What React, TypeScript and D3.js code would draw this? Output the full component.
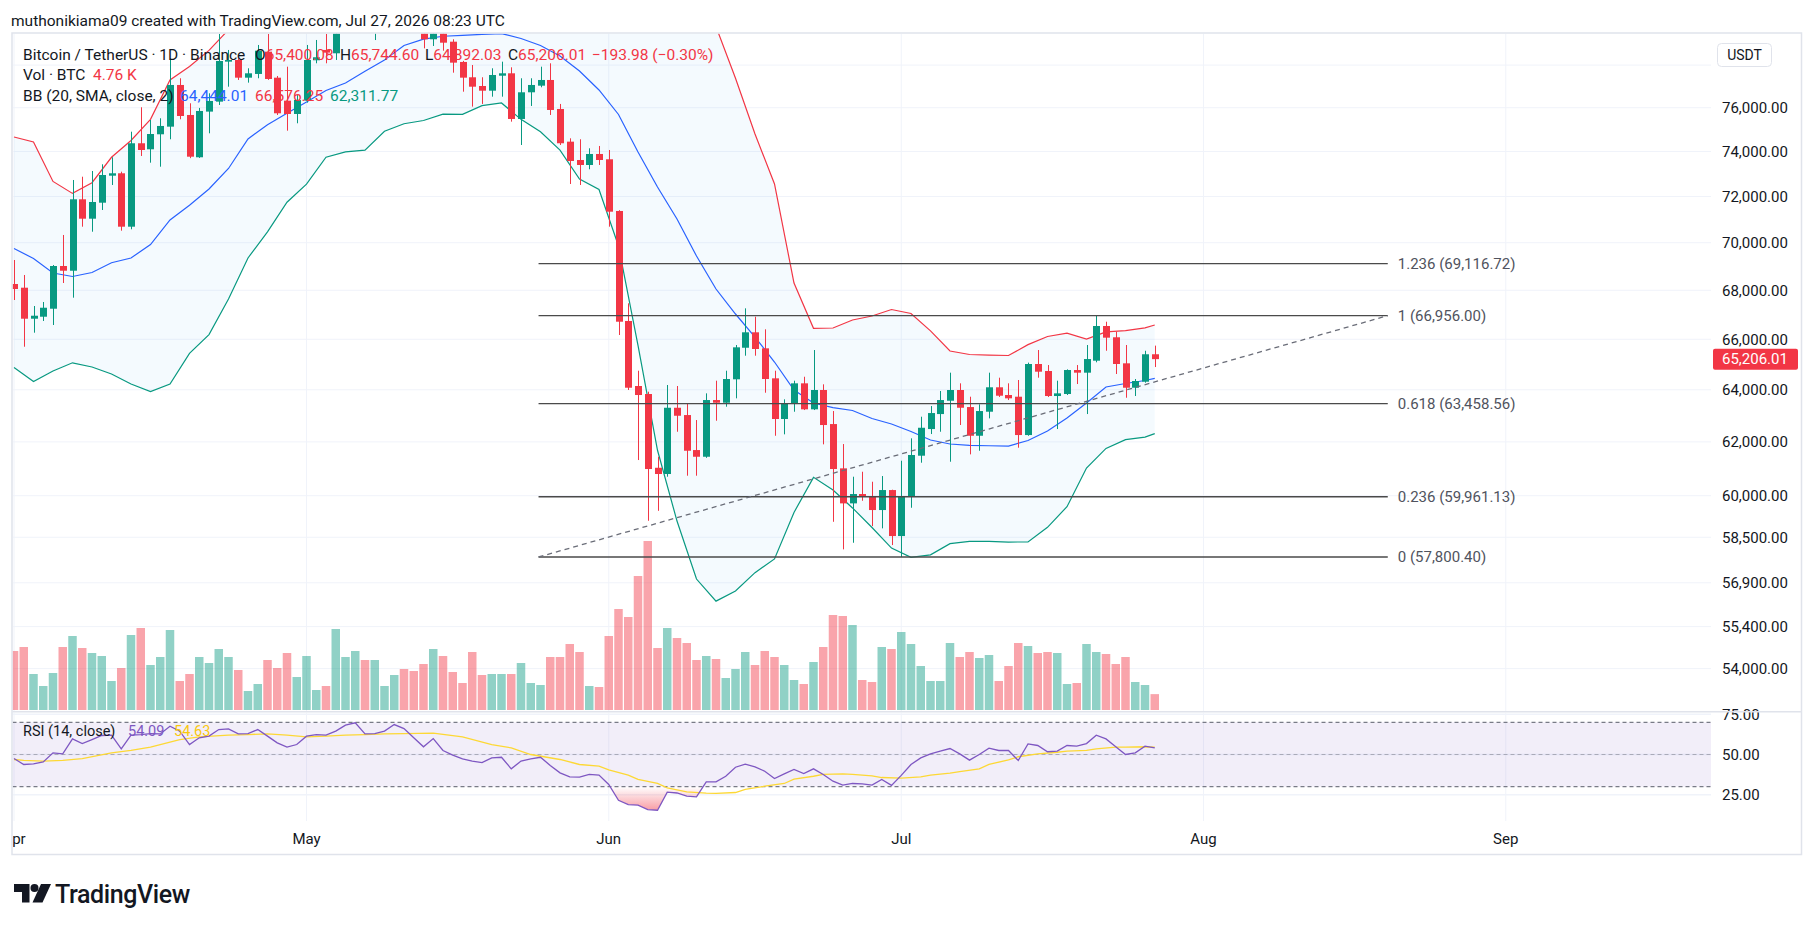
import { useEffect, useRef } from "react";
import * as d3 from "d3";

const W = 1815;
const H = 931;
const FONT = "Roboto, 'Noto Sans', Arial, sans-serif";
const TEXT = "#131722";
const UP = "#089981";
const DOWN = "#f23645";
const GRID = "#f0f3fa";
const BORDER = "#e0e3eb";

// BTCUSDT daily candles, Apr 1 – Jul 27 2026
const opens = [
  68260, 68107, 66832, 66913, 67240, 69013, 68815, 71876, 71031, 71727,
  72917, 73024, 70686, 74372, 74100, 74780, 75128, 77061, 75665, 73740,
  75820, 76282, 78163, 78244, 77404, 77580, 78640, 77404, 76327, 75711,
  76327, 78230, 78722, 78563, 79900, 81500, 82300, 81400, 81900, 82300,
  82900, 82000, 81000, 79237, 79900, 79120, 78150, 77423, 77013, 76793,
  77497, 77611, 75481, 76718, 77028, 77296, 75942, 74445, 73618, 73394,
  73888, 73650, 71366, 66739, 64147, 63835, 61030, 60798, 63303, 63022,
  61692, 61441, 63601, 63497, 64410, 65660, 66281, 65637, 64448, 62870,
  63447, 64252, 63242, 63991, 62677, 61008, 59720, 60061, 59987, 59478,
  60207, 58543, 59961, 61480, 62487, 63060, 63574, 63991, 63330, 62232,
  63150, 64097, 63796, 63730, 62259, 65013, 64736, 63757, 63835, 64775,
  64670, 65144, 66536, 66080, 65040, 64080, 64315, 65400.08,
];
const highs = [
  69266, 68636, 67351, 67516, 69055, 70330, 72726, 72872, 73126, 73425,
  73740, 73095, 74898, 76021, 75435, 75513, 78325, 77376, 76206, 75990,
  76671, 79494, 78722, 78325, 77848, 78962, 79494, 77484, 77925, 76593,
  78962, 79203, 79494, 80300, 82000, 82800, 82600, 82400, 82700, 83300,
  83100, 82300, 81400, 80300, 80200, 79237, 78200, 78005, 77423, 77848,
  78163, 77895, 77376, 77376, 77925, 78085, 76175, 74597, 74553, 74145,
  74249, 74068, 71400, 67462, 64748, 63925, 61440, 64186, 64147, 63474,
  62831, 63861, 64355, 64748, 65770, 67256, 66914, 66402, 64748, 63628,
  64355, 64510, 65569, 64213, 63176, 61918, 60698, 60883, 60513, 60723,
  60220, 61292, 62134, 62958, 63369, 63952, 64670, 64252, 63730, 63435,
  64670, 64473, 64252, 64382, 65067, 65569, 64972, 64355, 64801, 64972,
  65770, 66956, 66710, 66305, 65770, 64421, 65540, 65744.6,
];
const lows = [
  67598, 65701, 66265, 66739, 66576, 68302, 67693, 70686, 70470, 71409,
  72505, 70514, 70574, 73798, 73497, 73318, 74553, 75467, 73700, 73710,
  74825, 76127, 76980, 77296, 77170, 77376, 77300, 75665, 74944, 75283,
  76235, 78085, 78085, 78244, 79600, 81000, 81000, 79200, 81300, 81900,
  81600, 80600, 78800, 78914, 78688, 77640, 76746, 76050, 76175, 76513,
  76513, 75357, 74294, 76082, 76952, 75665, 74294, 72549, 72505, 73202,
  73394, 70686, 66172, 63991, 61318, 59090, 59450, 60698, 62384, 60735,
  60735, 61400, 62804, 63343, 63667, 65342, 65342, 63885, 62232, 62286,
  63150, 63215, 63215, 61907, 59054, 58070, 58304, 59815, 58900, 58818,
  58222, 57800.4, 59561, 61218, 62297, 62384, 61255, 62640, 61530, 61666,
  62895, 63720, 63601, 61780, 62232, 64473, 63720, 62487, 63796, 64225,
  63060, 65080, 65540, 64618, 63690, 63757, 64277, 64892.03,
];
const closes = [
  68053, 66832, 66954, 67281, 69013, 68815, 71876, 71031, 71758, 72948,
  73024, 70686, 74372, 74068, 74793, 75160, 77061, 75618, 73766, 75850,
  76314, 78196, 78244, 77404, 77611, 78688, 77343, 75743, 75711, 76360,
  78244, 78373, 78595, 79900, 81500, 82300, 81400, 81900, 82300, 82900,
  82000, 81000, 79237, 79900, 79072, 78116, 77404, 76980, 76793, 77531,
  77611, 75481, 76718, 77061, 77296, 75896, 74372, 73573, 73394, 73888,
  73618, 71335, 66710, 64080, 63796, 60983, 60798, 63303, 62995, 61666,
  61441, 63601, 63497, 64421, 65677, 66281, 65610, 64421, 62870, 63474,
  64252, 63242, 63991, 62640, 60983, 59720, 60061, 59961, 59478, 60207,
  58543, 59987, 61507, 62536, 63099, 63601, 63991, 63303, 62232, 63176,
  64097, 63769, 63667, 62259, 65013, 64709, 63757, 63861, 64775, 64670,
  65210, 66536, 66064, 65013, 64080, 64343, 65399.99, 65206.01,
];
// volume, thousand BTC
const volumes = [
  17.7, 18.9, 10.8, 7.2, 11.1, 18.9, 22.2, 18.6, 17.1, 16.2,
  8.7, 12.6, 22.5, 24.6, 13.5, 15.9, 24.0, 8.7, 10.8, 15.9,
  14.1, 18.3, 15.9, 12.0, 5.7, 7.8, 15.0, 12.6, 17.1, 9.9,
  16.2, 6.0, 7.2, 24.3, 15.9, 17.7, 15.0, 15.0, 7.2, 10.5,
  12.3, 11.7, 13.8, 18.3, 16.2, 11.4, 8.1, 17.4, 10.5, 10.8,
  10.8, 10.8, 14.1, 8.1, 7.5, 15.9, 15.9, 19.8, 17.4, 7.2,
  6.9, 22.2, 30.3, 27.9, 40.2, 50.7, 18.6, 24.6, 21.6, 20.1,
  15.0, 16.2, 15.3, 9.6, 12.3, 17.4, 13.5, 17.7, 15.9, 13.5,
  9.0, 7.8, 14.4, 18.9, 28.5, 28.2, 25.5, 9.0, 8.4, 18.9,
  18.3, 23.4, 19.8, 13.2, 8.7, 8.7, 20.1, 15.9, 17.4, 15.6,
  16.5, 8.7, 13.2, 20.1, 19.2, 17.1, 17.4, 17.1, 7.8, 8.1,
  19.8, 17.4, 16.8, 13.8, 15.9, 8.4, 7.5, 4.76,
];

// Bollinger Bands (20, 2), sampled every other day
const bbDays = [
  0, 2, 4, 6, 8, 10, 12, 14, 16, 18, 20, 22, 24, 26, 28, 30, 32, 34, 36, 38,
  40, 42, 44, 46, 48, 50, 52, 54, 56, 58, 60, 62, 64, 66, 68, 70, 72, 74, 76, 78,
  80, 82, 84, 86, 88, 90, 92, 94, 96, 98, 100, 102, 104, 106, 108, 110, 112, 114, 116, 117,
];
const bbUpper = [
  74658, 74430, 72664, 72135, 72606, 73740, 74498, 75463, 77296, 77933,
  78700, 79700, 80500, 80800, 80600, 80800, 80700, 80900, 81359, 81571,
  82615, 83072, 83057, 83157, 82852, 82806, 83089, 82982, 82807, 82672,
  81346, 81518, 82199, 83149, 82956, 81841, 79850, 77376, 74794, 72549,
  68302, 66443, 66455, 66779, 66942, 67208, 67044, 66341, 65529, 65390,
  65362, 65350, 65785, 66111, 66245, 66010, 66297, 66345, 66463, 66576.25,
];
const bbBasis = [
  69753, 69330, 68720, 68573, 68740, 69152, 69351, 69923, 70975, 71614,
  72328, 73238, 74567, 75219, 75744, 76267, 76803, 77155, 77711, 78244,
  78938, 79242, 79382, 79425, 79474, 79513, 79276, 78938, 78435, 77721,
  76826, 75689, 73978, 72417, 71018, 69435, 68053, 67024, 66091, 65092,
  63991, 63485, 63311, 63196, 62889, 62678, 62392, 62070, 61919, 61870,
  61855, 61843, 62051, 62411, 62908, 63485, 64108, 64245, 64362, 64444.01,
];
const bbLower = [
  64874, 64323, 64736, 65060, 64894, 64618, 64226, 63933, 64226, 65434,
  66188, 67639, 69351, 70467, 71749, 72540, 73744, 73982, 74063, 74917,
  75261, 75412, 75707, 75693, 76096, 76220, 75463, 74894, 74063, 72770,
  72306, 69860, 65757, 61685, 59080, 57029, 56267, 56614, 57252, 57732,
  59391, 60675, 60207, 59554, 58850, 58116, 57791, 57876, 58272, 58350,
  58354, 58329, 58332, 58854, 59601, 61020, 61753, 62085, 62180, 62311.77,
];

// RSI (14) and its moving average
const rsiValues = [
  47.5, 43.8, 44.2, 45.4, 51.0, 50.4, 59.7, 56.8, 59.3, 61.8,
  62.0, 53.5, 62.0, 62.4, 63.0, 62.8, 67.6, 64.5, 56.2, 60.4,
  61.4, 65.5, 65.9, 62.8, 63.0, 65.5, 61.4, 57.2, 54.6, 56.2,
  61.4, 62.4, 62.0, 64.5, 68.2, 69.7, 62.8, 63.0, 64.5, 68.6,
  66.1, 60.4, 54.8, 59.9, 52.5, 49.6, 47.3, 45.9, 45.0, 47.9,
  48.3, 41.1, 45.9, 47.3, 48.3, 43.2, 38.6, 36.1, 35.9, 37.6,
  37.2, 31.4, 21.6, 18.9, 18.5, 15.8, 15.4, 26.6, 26.1, 24.1,
  23.7, 33.0, 33.0, 36.5, 42.1, 44.0, 42.3, 39.6, 35.1, 38.0,
  40.7, 38.2, 41.1, 37.6, 33.4, 31.0, 32.0, 31.8, 31.0, 34.5,
  30.8, 37.0, 43.8, 47.9, 50.4, 52.1, 53.7, 50.4, 46.5, 50.0,
  53.9, 52.5, 52.5, 46.3, 56.6, 55.6, 51.7, 52.1, 55.6, 55.2,
  56.8, 62.0, 59.7, 54.8, 50.0, 51.0, 55.2, 54.09,
];
const rsiMaDays = [
  0, 1, 3, 5, 7, 10, 12, 14, 17, 19, 22, 24, 26, 28, 30, 32, 34, 36, 38, 40, 43, 46,
  49, 51, 53, 56, 58, 60, 61, 63, 64, 66, 67, 69, 71, 72, 74, 75, 77, 79, 80, 82, 83,
  85, 86, 88, 89, 91, 93, 94, 96, 97, 99, 100, 102, 103, 105, 107, 108, 110, 111, 113,
  114, 116, 117,
];
const rsiMaValues = [
  46.9, 46.3, 45.9, 46.3, 47.5, 51.0, 52.5, 54.6, 59.3, 61.0, 62.0, 62.4, 62.8, 62.0,
  61.0, 61.4, 62.0, 62.4, 62.8, 63.0, 63.3, 61.0, 56.2, 54.1, 50.0, 46.9, 43.8, 42.8,
  40.5, 37.2, 34.5, 32.0, 29.3, 26.8, 26.0, 25.8, 26.4, 28.3, 30.3, 32.0, 34.7, 36.5,
  37.6, 38.0, 37.6, 36.7, 35.7, 35.3, 36.1, 37.2, 38.4, 39.4, 41.1, 43.8, 46.7, 48.6,
  50.4, 51.4, 52.1, 52.5, 53.5, 54.6, 54.6, 54.8, 54.63,
];

// grid lines; the top one sits behind the currency box and carries no label
const priceGrid = [78000, 76000, 74000, 72000, 70000, 68000, 66000, 64000, 62000, 60000, 58500, 56900, 55400, 54000];
const priceLabels = [76000, 74000, 72000, 70000, 68000, 66000, 64000, 62000, 60000, 58500, 56900, 55400, 54000];
const rsiTicks = [75, 50, 25];

// Fibonacci retracement drawing
const fibRatios = ["1.236", "1", "0.618", "0.236", "0"];
const fibPrices = [69116.72, 66956.0, 63458.56, 59961.13, 57800.4];
const fibStartDay = 53.8;
const fibEndDay = 140.9;

const DAY = 864e5;
const t0 = Date.UTC(2026, 3, 1);
const dayDate = (d: number) => new Date(t0 + d * DAY);

export default function App() {
  const ref = useRef<SVGSVGElement>(null);

  useEffect(() => {
    document.body.style.margin = "0";
    const svg = d3.select(ref.current);
    svg.selectAll("*").remove();

    const L = 12.5, R = 1711, FR = 1801.5;
    const mainTop = 33.5, mainBot = 711, rsiTop = 712.5, rsiBot = 821, frameBot = 854.5;

    const x = d3.scaleUtc().domain([dayDate(0), new Date(Date.UTC(2026, 8, 1))]).range([14, 1505.75]);
    const y = d3.scaleLog().domain([60000, 70000]).range([495.7, 242.7]);
    const yVol = d3.scaleLinear().domain([0, d3.max(volumes) as number]).range([710, 541]);
    const yRsi = d3.scaleLinear().domain([30, 70]).range([786.7, 722.3]);
    const fmt = d3.format(",.2f");

    const defs = svg.append("defs");
    defs.append("clipPath").attr("id", "mainClip").append("rect")
      .attr("x", L).attr("y", mainTop).attr("width", R - L).attr("height", mainBot - mainTop);
    defs.append("clipPath").attr("id", "rsiClip").append("rect")
      .attr("x", L).attr("y", rsiTop).attr("width", R - L).attr("height", rsiBot - rsiTop);
    defs.append("clipPath").attr("id", "oversoldClip").append("rect")
      .attr("x", L).attr("y", yRsi(30)).attr("width", R - L).attr("height", rsiBot - yRsi(30));
    defs.append("clipPath").attr("id", "axisClip").append("rect")
      .attr("x", L).attr("y", rsiBot).attr("width", R - L).attr("height", frameBot - rsiBot);
    const grad = defs.append("linearGradient").attr("id", "oversoldGrad")
      .attr("gradientUnits", "userSpaceOnUse")
      .attr("x1", 0).attr("x2", 0).attr("y1", yRsi(30)).attr("y2", yRsi(0));
    grad.append("stop").attr("offset", 0).attr("stop-color", DOWN).attr("stop-opacity", 0);
    grad.append("stop").attr("offset", 1).attr("stop-color", DOWN).attr("stop-opacity", 1);

    svg.append("rect").attr("width", W).attr("height", H).attr("fill", "#fff");

    // header
    svg.append("text").attr("x", 11).attr("y", 25.5)
      .attr("font-family", FONT).attr("font-size", 15.5).attr("fill", TEXT)
      .text("muthonikiama09 created with TradingView.com, Jul 27, 2026 08:23 UTC");

    const months = d3.utcMonth.range(dayDate(0), new Date(Date.UTC(2026, 8, 2)));

    // ---- main pane ----
    const main = svg.append("g").attr("clip-path", "url(#mainClip)");
    months.forEach((m) => {
      main.append("line").attr("x1", x(m)).attr("x2", x(m)).attr("y1", mainTop).attr("y2", mainBot)
        .attr("stroke", GRID).attr("stroke-width", 1);
    });
    priceGrid.forEach((p) => {
      main.append("line").attr("x1", L).attr("x2", R).attr("y1", y(p)).attr("y2", y(p))
        .attr("stroke", GRID).attr("stroke-width", 1);
    });

    const bbIdx = d3.range(bbDays.length);
    const bbArea = d3.area<number>()
      .x((i) => x(dayDate(bbDays[i])))
      .y0((i) => y(bbLower[i]))
      .y1((i) => y(bbUpper[i]));
    main.append("path").datum(bbIdx).attr("d", bbArea).attr("fill", "rgba(33,150,243,0.05)");

    // volume
    main.selectAll(".vol").data(volumes).enter().append("rect")
      .attr("x", (_, i) => x(dayDate(i)) - 4.25)
      .attr("width", 8.5)
      .attr("y", (v) => yVol(v))
      .attr("height", (v) => yVol(0) - yVol(v))
      .attr("fill", (_, i) => (closes[i] >= opens[i] ? "rgba(8,153,129,0.45)" : "rgba(242,54,69,0.45)"));

    const bbLine = (vals: number[]) =>
      d3.line<number>().x((i) => x(dayDate(bbDays[i]))).y((i) => y(vals[i]))(bbIdx);
    main.append("path").attr("d", bbLine(bbUpper)).attr("fill", "none").attr("stroke", DOWN).attr("stroke-width", 1.2);
    main.append("path").attr("d", bbLine(bbLower)).attr("fill", "none").attr("stroke", UP).attr("stroke-width", 1.2);
    main.append("path").attr("d", bbLine(bbBasis)).attr("fill", "none").attr("stroke", "#2962ff").attr("stroke-width", 1.2);

    // candles
    closes.forEach((c, i) => {
      const o = opens[i];
      const cx = Math.round(x(dayDate(i))) + 0.5;
      const col = c >= o ? UP : DOWN;
      main.append("line").attr("x1", cx).attr("x2", cx).attr("y1", y(highs[i])).attr("y2", y(lows[i]))
        .attr("stroke", col).attr("stroke-width", 1);
      const top = y(Math.max(o, c));
      const h = Math.max(1, y(Math.min(o, c)) - top);
      main.append("rect").attr("x", cx - 3.5).attr("y", top).attr("width", 7).attr("height", h).attr("fill", col);
    });

    // fib retracement + trend line
    const fx1 = x(dayDate(fibStartDay));
    const fx2 = x(dayDate(fibEndDay));
    fibPrices.forEach((p, k) => {
      main.append("line").attr("x1", fx1).attr("x2", fx2).attr("y1", y(p)).attr("y2", y(p))
        .attr("stroke", "#4a4a4a").attr("stroke-width", 1.3);
      main.append("text").attr("x", fx2 + 10).attr("y", y(p) + 5.3)
        .attr("font-family", FONT).attr("font-size", 15).attr("fill", "#50535e")
        .text(`${fibRatios[k]} (${fmt(p)})`);
    });
    main.append("line").attr("x1", fx1).attr("x2", fx2)
      .attr("y1", y(fibPrices[4])).attr("y2", y(fibPrices[1]))
      .attr("stroke", "#6a6d78").attr("stroke-width", 1.3).attr("stroke-dasharray", "5,4");

    // legend
    const last = closes.length - 1;
    const chg = closes[last] - closes[last - 1];
    const pct = (chg / closes[last - 1]) * 100;
    const leg = svg.append("g").attr("font-family", FONT).attr("font-size", 15.5);
    leg.append("text").attr("x", 23).attr("y", 59.5).attr("fill", TEXT).text("Bitcoin / TetherUS · 1D · Binance");
    const ohlc: [string, number, number][] = [
      ["O", opens[last], 255], ["H", highs[last], 340], ["L", lows[last], 425], ["C", closes[last], 508],
    ];
    ohlc.forEach(([k, v, px]) => {
      const t = leg.append("text").attr("x", px).attr("y", 59.5);
      t.append("tspan").attr("fill", TEXT).text(k);
      t.append("tspan").attr("fill", DOWN).text(fmt(v));
    });
    leg.append("text").attr("x", 592).attr("y", 59.5).attr("fill", DOWN)
      .text(`${fmt(chg)} (${d3.format(".2f")(pct)}%)`);
    leg.append("text").attr("x", 23).attr("y", 80).attr("fill", TEXT).text("Vol · BTC");
    leg.append("text").attr("x", 93).attr("y", 80).attr("fill", DOWN).text(`${volumes[last].toFixed(2)} K`);
    leg.append("text").attr("x", 23).attr("y", 101).attr("fill", TEXT).text("BB (20, SMA, close, 2)");
    const bl = bbDays.length - 1;
    leg.append("text").attr("x", 180).attr("y", 101).attr("fill", "#2962ff").text(fmt(bbBasis[bl]));
    leg.append("text").attr("x", 255).attr("y", 101).attr("fill", DOWN).text(fmt(bbUpper[bl]));
    leg.append("text").attr("x", 330).attr("y", 101).attr("fill", UP).text(fmt(bbLower[bl]));

    // ---- RSI pane ----
    const rsi = svg.append("g").attr("clip-path", "url(#rsiClip)");
    months.forEach((m) => {
      rsi.append("line").attr("x1", x(m)).attr("x2", x(m)).attr("y1", rsiTop).attr("y2", rsiBot)
        .attr("stroke", GRID).attr("stroke-width", 1);
    });
    rsiTicks.forEach((v) => {
      rsi.append("line").attr("x1", L).attr("x2", R).attr("y1", yRsi(v)).attr("y2", yRsi(v))
        .attr("stroke", GRID).attr("stroke-width", 1.5);
    });
    rsi.append("rect").attr("x", L).attr("width", R - L)
      .attr("y", yRsi(70)).attr("height", yRsi(30) - yRsi(70)).attr("fill", "rgba(126,87,194,0.1)");
    [70, 50, 30].forEach((v) => {
      rsi.append("line").attr("x1", L).attr("x2", R).attr("y1", yRsi(v)).attr("y2", yRsi(v))
        .attr("stroke", v === 50 ? "rgba(120,123,134,0.55)" : "#787b86")
        .attr("stroke-width", 1.2).attr("stroke-dasharray", "4,3");
    });
    const rsiIdx = d3.range(rsiValues.length);
    rsi.append("path").datum(rsiIdx).attr("clip-path", "url(#oversoldClip)")
      .attr("d", d3.area<number>().x((i) => x(dayDate(i))).y0(yRsi(30)).y1((i) => yRsi(rsiValues[i])))
      .attr("fill", "url(#oversoldGrad)");
    rsi.append("path").datum(d3.range(rsiMaDays.length))
      .attr("d", d3.line<number>().x((i) => x(dayDate(rsiMaDays[i]))).y((i) => yRsi(rsiMaValues[i])))
      .attr("fill", "none").attr("stroke", "#fdd835").attr("stroke-width", 1.3);
    rsi.append("path").datum(rsiIdx)
      .attr("d", d3.line<number>().x((i) => x(dayDate(i))).y((i) => yRsi(rsiValues[i])))
      .attr("fill", "none").attr("stroke", "#7e57c2").attr("stroke-width", 1.3);

    const rl = svg.append("g").attr("font-family", FONT).attr("font-size", 14.5);
    rl.append("text").attr("x", 23).attr("y", 735.5).attr("fill", TEXT).text("RSI (14, close)");
    rl.append("text").attr("x", 128).attr("y", 735.5).attr("fill", "#7e57c2").text(rsiValues[last].toFixed(2));
    rl.append("text").attr("x", 174).attr("y", 735.5).attr("fill", "#f9c80e").text(rsiMaValues[rsiMaValues.length - 1].toFixed(2));

    // ---- axes ----
    const ax = svg.append("g").attr("font-family", FONT).attr("font-size", 15).attr("fill", TEXT);
    priceLabels.forEach((p) => {
      ax.append("text").attr("x", 1722).attr("y", y(p) + 5.3).text(fmt(p));
    });
    rsiTicks.forEach((v) => {
      ax.append("text").attr("x", 1722).attr("y", yRsi(v) + 5.3).text(fmt(v));
    });
    const tl = svg.append("g").attr("clip-path", "url(#axisClip)")
      .attr("font-family", FONT).attr("font-size", 15).attr("fill", TEXT);
    months.forEach((m) => {
      tl.append("text").attr("x", x(m)).attr("y", 844).attr("text-anchor", "middle").text(d3.utcFormat("%b")(m));
    });

    // currency box
    svg.append("rect").attr("x", 1717.5).attr("y", 43.5).attr("width", 54).attr("height", 23).attr("rx", 4)
      .attr("fill", "#fff").attr("stroke", BORDER);
    svg.append("text").attr("x", 1744.5).attr("y", 60).attr("text-anchor", "middle")
      .attr("font-family", FONT).attr("font-size", 14).attr("fill", TEXT).text("USDT");

    // last price tag
    const ly = y(closes[last]);
    svg.append("rect").attr("x", 1713).attr("y", ly - 10.5).attr("width", 85).attr("height", 21).attr("rx", 2).attr("fill", DOWN);
    svg.append("text").attr("x", 1722).attr("y", ly + 5.3)
      .attr("font-family", FONT).attr("font-size", 15).attr("fill", "#fff").text(fmt(closes[last]));

    // frame and separators
    svg.append("rect").attr("x", L - 0.5).attr("y", mainTop - 0.5).attr("width", FR - L + 0.5)
      .attr("height", frameBot - mainTop + 0.5).attr("fill", "none").attr("stroke", BORDER).attr("stroke-width", 1.5);
    svg.append("line").attr("x1", L).attr("x2", FR).attr("y1", 711.75).attr("y2", 711.75).attr("stroke", BORDER).attr("stroke-width", 1.5);

    // TradingView mark
    const logo = svg.append("g").attr("fill", TEXT);
    logo.append("path").attr("d", "M14,884 h15.5 v18.5 h-7.5 v-10.5 h-8 z");
    logo.append("circle").attr("cx", 34.5).attr("cy", 888).attr("r", 4);
    logo.append("path").attr("d", "M41,884 h10 l-8.5,18.5 h-10 z");
    svg.append("text").attr("x", 55).attr("y", 902.5).attr("font-family", FONT).attr("font-size", 25)
      .attr("font-weight", 500).attr("letter-spacing", -0.4).attr("fill", TEXT).text("TradingView");
  }, []);

  return <svg ref={ref} width={W} height={H} style={{ display: "block", background: "#fff" }} />;
}
